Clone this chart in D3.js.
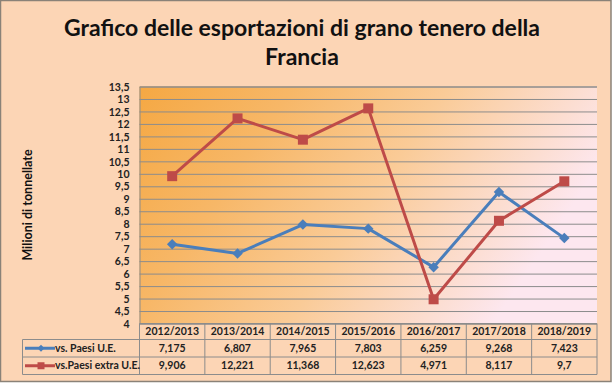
<!DOCTYPE html>
<html><head><meta charset="utf-8">
<script src="https://cdn.jsdelivr.net/npm/d3@7/dist/d3.min.js"></script>
<style>body{margin:0;background:#fff}svg{display:block}text{font-family:Lato,"Open Sans",sans-serif;}</style>
</head><body>
<script>
const categories = ["2012/2013","2013/2014","2014/2015","2015/2016","2016/2017","2017/2018","2018/2019"];
const seriesNames = ["vs. Paesi U.E.","vs.Paesi extra U.E."];
const ueValues = [7.175, 6.807, 7.965, 7.803, 6.259, 9.268, 7.423];
const extraValues = [9.906, 12.221, 11.368, 12.623, 4.971, 8.117, 9.7];
const ueLabels = ["7,175","6,807","7,965","7,803","6,259","9,268","7,423"];
const extraLabels = ["9,906","12,221","11,368","12,623","4,971","8,117","9,7"];
const yTicks = [4,4.5,5,5.5,6,6.5,7,7.5,8,8.5,9,9.5,10,10.5,11,11.5,12,12.5,13,13.5];
const titleLines = ["Grafico delle esportazioni di grano tenero della","Francia"];
const yTitle = "Milioni di tonnellate";

const W=612,H=383;
const svg=d3.select("body").append("svg").attr("width",W).attr("height",H);
const L=139.5,R=597,T=86.5,B=323.5;
const colors=["#4A7EBB","#BE4B48"];
const defs=svg.append("defs");
const g=defs.append("linearGradient").attr("id","bg").attr("x1","0").attr("y1","0").attr("x2","1").attr("y2","0.35");
g.append("stop").attr("offset","0").attr("stop-color","#F5A843");
g.append("stop").attr("offset","0.3").attr("stop-color","#F7B767");
g.append("stop").attr("offset","0.6").attr("stop-color","#FACB97");
g.append("stop").attr("offset","1").attr("stop-color","#FDE7EF");

svg.append("rect").attr("x",0.5).attr("y",0.5).attr("width",610.5).attr("height",381)
  .attr("fill","#FCD5B5").attr("stroke","#8A8278").attr("stroke-width",1.5);

const x=d3.scaleBand().domain(categories).range([L,R]);
const y=d3.scaleLinear().domain([4,13.5]).range([B,T]);

svg.append("rect").attr("x",L).attr("y",T).attr("width",R-L).attr("height",B-T).attr("fill","url(#bg)");

// gridlines
const ax=d3.axisLeft(y).tickValues(yTicks).tickSize(-(R-L)).tickFormat(d=>String(d).replace(".",","));
const ga=svg.append("g").attr("transform",`translate(${L},0)`).call(ax);
ga.select(".domain").attr("stroke","#8C8C8C");
ga.selectAll(".tick line").attr("stroke","#8C8C8C").attr("stroke-width",1);
ga.selectAll(".tick text").attr("x",-10).attr("font-size",10.5).attr("font-weight","bold").attr("fill","#222").attr("dy","0.35em");

// title
svg.append("g").selectAll("text").data(titleLines).join("text")
  .attr("x",302).attr("y",(d,i)=>36+i*29).attr("text-anchor","middle")
  .attr("font-size",23).attr("font-weight","bold").attr("fill","#111").text(d=>d);

svg.append("text").attr("transform",`translate(32,${(T+B)/2}) rotate(-90)`).attr("text-anchor","middle")
  .attr("font-size",12.5).attr("font-weight","bold").attr("fill","#111").text(yTitle);

// lines
const cx=d=>x(d)+x.bandwidth()/2;
const series=[ueValues,extraValues];
const line=d3.line().x((d,i)=>cx(categories[i])).y(d=>y(d));
series.forEach((vals,s)=>{
  svg.append("path").datum(vals).attr("d",line).attr("fill","none").attr("stroke",colors[s]).attr("stroke-width",3).attr("stroke-linejoin","round");
  const m=svg.append("g").selectAll("path").data(vals).join("path")
    .attr("transform",(d,i)=>`translate(${cx(categories[i])},${y(d)})`)
    .attr("fill",colors[s]);
  if(s===0) m.attr("d",d3.symbol(d3.symbolDiamond2? d3.symbolDiamond2: d3.symbolDiamond, 70)());
  else m.attr("d","M-5,-5H5V5H-5Z");
});

// table
const rowY=[323.5,339.5,357,374.5];
const tc="#8C8C8C";
const tb=svg.append("g");
tb.append("line").attr("x1",L).attr("x2",R).attr("y1",rowY[0]).attr("y2",rowY[0]).attr("stroke",tc);
[1,2,3].forEach(i=>tb.append("line").attr("x1",22.5).attr("x2",R).attr("y1",rowY[i]).attr("y2",rowY[i]).attr("stroke",tc));
tb.append("line").attr("x1",22.5).attr("x2",22.5).attr("y1",rowY[1]).attr("y2",rowY[3]).attr("stroke",tc);
categories.forEach(c=>{
  tb.append("line").attr("x1",x(c)).attr("x2",x(c)).attr("y1",rowY[0]).attr("y2",rowY[3]).attr("stroke",tc);
});
tb.append("line").attr("x1",R).attr("x2",R).attr("y1",rowY[0]).attr("y2",rowY[3]).attr("stroke",tc);

tb.selectAll("text.cat").data(categories).join("text").attr("class","cat")
  .attr("x",d=>cx(d)).attr("y",(rowY[0]+rowY[1])/2).attr("dy","0.35em").attr("text-anchor","middle")
  .attr("font-size",10.5).attr("font-weight","bold").attr("fill","#222").text(d=>d);
[ueLabels,extraLabels].forEach((labs,s)=>{
  tb.append("g").selectAll("text").data(labs).join("text")
    .attr("x",(d,i)=>cx(categories[i])).attr("y",(rowY[s+1]+rowY[s+2])/2).attr("dy","0.35em").attr("text-anchor","middle")
    .attr("font-size",10.5).attr("font-weight","bold").attr("fill","#222").text(d=>d);
  const ym=(rowY[s+1]+rowY[s+2])/2;
  tb.append("line").attr("x1",25).attr("x2",55).attr("y1",ym).attr("y2",ym).attr("stroke",colors[s]).attr("stroke-width",3);
  if(s===0) tb.append("path").attr("transform",`translate(41,${ym})`).attr("d",d3.symbol(d3.symbolDiamond2||d3.symbolDiamond,30)()).attr("fill",colors[s]);
  else tb.append("path").attr("transform",`translate(41,${ym})`).attr("d","M-3.5,-3.5H3.5V3.5H-3.5Z").attr("fill",colors[s]);
  tb.append("text").attr("x",55).attr("y",ym).attr("dy","0.35em").attr("font-size",10.5).attr("font-weight","bold").attr("fill","#222").text(seriesNames[s]);
});
</script>
</body></html>
